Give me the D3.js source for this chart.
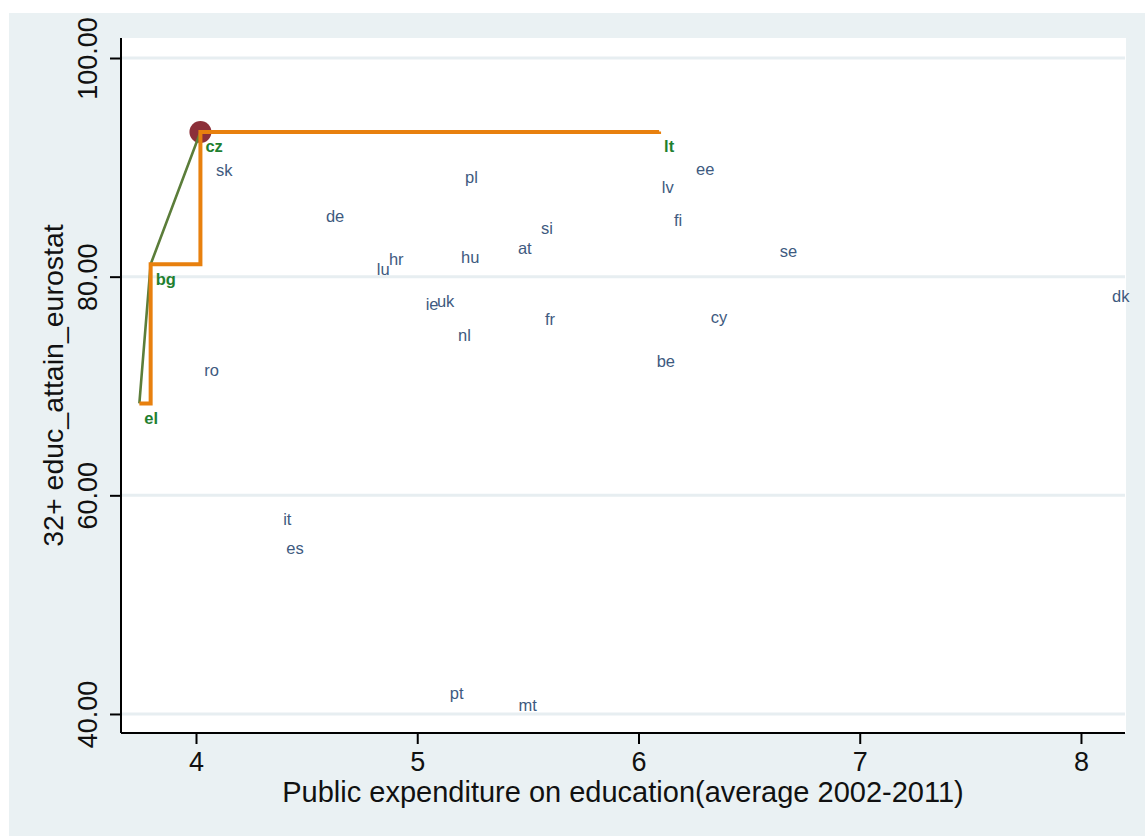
<!DOCTYPE html>
<html>
<head>
<meta charset="utf-8">
<script src="https://cdn.jsdelivr.net/npm/d3@7"></script>
<style>
  html, body { margin: 0; padding: 0; background: #ffffff; }
  svg { display: block; }
  text { font-family: "Liberation Sans", Arial, sans-serif; }
</style>
</head>
<body>
<svg id="chart" width="1145" height="836"></svg>
<script>
// ---- data ----
const countries   = ["sk","pl","de","lv","ee","fi","si","at","se","hu","hr","lu","dk","ie","uk","fr","cy","nl","be","ro","it","es","pt","mt"];
const expenditure = [4.072,5.198,4.569,6.087,6.242,6.142,5.541,5.437,6.620,5.180,4.854,4.799,8.122,5.020,5.071,5.559,6.308,5.166,6.064,4.019,4.376,4.390,5.129,5.440];
const attainment  = [89.66,89.05,85.45,88.13,89.75,85.11,84.35,82.53,82.28,81.70,81.52,80.60,78.16,77.40,77.70,76.03,76.21,74.57,72.21,71.36,57.80,55.14,41.81,40.71];

// efficient (frontier) countries
const frontierCountries   = ["el","bg","cz","lt"];
const frontierExpenditure = [3.744,3.795,4.020,6.093];
const frontierAttainment  = [68.41,81.13,93.23,93.28];

// highlighted benchmark point
const highlightCountry = ["cz"];

const xTicks = [4,5,6,7,8];
const yTicks = [40,60,80,100];

const xTitle = "Public expenditure on education(average 2002-2011)";
const yTitle = "32+ educ_attain_eurostat";

// ---- layout ----
const svg = d3.select("#chart");
const plot = {left: 121, right: 1125, top: 38, bottom: 733};

const x = d3.scaleLinear().domain([3.661, 8.199]).range([plot.left, plot.right]);
const y = d3.scaleLinear().domain([38.26, 101.83]).range([plot.bottom, plot.top]);

// outer background
svg.append("rect").attr("x", 9).attr("y", 13).attr("width", 1145 - 9).attr("height", 836 - 13)
   .attr("fill", "#eaf1f3");
// plot region
svg.append("rect").attr("x", plot.left).attr("y", plot.top)
   .attr("width", plot.right + 1 - plot.left).attr("height", plot.bottom - plot.top)
   .attr("fill", "#ffffff");

// gridlines
svg.append("g").selectAll("line").data(yTicks).join("line")
   .attr("x1", plot.left).attr("x2", plot.right)
   .attr("y1", d => y(d)).attr("y2", d => y(d))
   .attr("stroke", "#e7eef1").attr("stroke-width", 3);

// y axis
const yAxis = svg.append("g").attr("transform", `translate(${plot.left},0)`)
  .call(d3.axisLeft(y).tickValues(yTicks).tickSize(11).tickFormat(d3.format(".2f")));
yAxis.select(".domain").attr("d", `M0,${plot.top}V${plot.bottom}`).attr("stroke", "#000").attr("stroke-width", 2);
yAxis.selectAll(".tick line").attr("stroke", "#000").attr("stroke-width", 2);
yAxis.selectAll(".tick text")
  .attr("x", null).attr("dy", null)
  .attr("transform", "translate(-24,0) rotate(-90)")
  .attr("text-anchor", "middle")
  .attr("font-size", 27).attr("fill", "#111")
  .style("font-family", "'Liberation Sans', Arial, sans-serif");

// x axis
const xAxis = svg.append("g").attr("transform", `translate(0,${plot.bottom})`)
  .call(d3.axisBottom(x).tickValues(xTicks).tickSize(11).tickFormat(d3.format("d")));
xAxis.select(".domain").attr("d", `M${plot.left},0H${plot.right}`).attr("stroke", "#000").attr("stroke-width", 2);
xAxis.selectAll(".tick line").attr("stroke", "#000").attr("stroke-width", 2);
xAxis.selectAll(".tick text")
  .attr("y", 38).attr("dy", null)
  .attr("font-size", 27).attr("fill", "#111")
  .style("font-family", "'Liberation Sans', Arial, sans-serif");

// axis titles
svg.append("text").attr("x", (plot.left + plot.right) / 2).attr("y", 802)
   .attr("text-anchor", "middle").attr("font-size", 29).attr("fill", "#111").text(xTitle);
svg.append("text").attr("transform", `translate(63,${(plot.top + plot.bottom) / 2}) rotate(-90)`)
   .attr("text-anchor", "middle").attr("font-size", 28.5).attr("fill", "#111").text(yTitle);

// highlighted marker
const hi = highlightCountry.map(c => frontierCountries.indexOf(c));
svg.append("g").selectAll("circle").data(hi).join("circle")
   .attr("cx", i => x(frontierExpenditure[i])).attr("cy", i => y(frontierAttainment[i]))
   .attr("r", 11).attr("fill", "#8c3039");

// frontier points (ordered)
const fpts = frontierCountries.map((c, i) => [frontierExpenditure[i], frontierAttainment[i]]);

// convex (DEA) frontier - green line
svg.append("path").datum(fpts)
   .attr("d", d3.line().x(d => x(d[0])).y(d => y(d[1])))
   .attr("fill", "none").attr("stroke", "#5b7d3a").attr("stroke-width", 2.6);

// step (FDH) frontier - orange line
const stepPts = [];
fpts.forEach((p, i) => {
  if (i === 0) { stepPts.push(p); }
  else {
    const prev = stepPts[stepPts.length - 1];
    stepPts.push([p[0], prev[1]]);
    stepPts.push([p[0], Math.max(p[1], prev[1])]);
  }
});
svg.append("path").datum(stepPts)
   .attr("d", d3.line().x(d => x(d[0])).y(d => y(d[1])))
   .attr("fill", "none").attr("stroke", "#e8800e").attr("stroke-width", 4)
   .attr("stroke-linejoin", "miter");

// country labels
svg.append("g").selectAll("text").data(countries).join("text")
   .attr("x", (d, i) => x(expenditure[i]) + 4)
   .attr("y", (d, i) => y(attainment[i]))
   .attr("dy", "0.32em")
   .attr("font-size", 16.5).attr("fill", "#3e5a80")
   .text(d => d);

// frontier labels
svg.append("g").selectAll("text").data(frontierCountries).join("text")
   .attr("x", (d, i) => x(frontierExpenditure[i]) + 5)
   .attr("y", (d, i) => y(frontierAttainment[i]) + 15)
   .attr("dy", "0.32em")
   .attr("font-size", 16.5).attr("font-weight", "bold").attr("fill", "#1f8030")
   .text(d => d);
</script>
</body>
</html>
